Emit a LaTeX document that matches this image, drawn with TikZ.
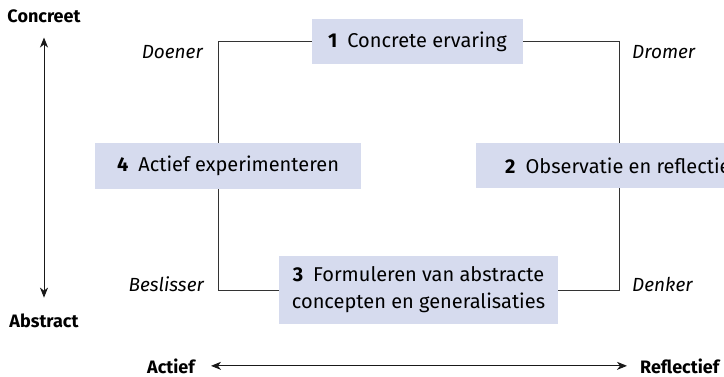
\documentclass[tikz,border=0pt]{standalone}
\usepackage{fontspec}
\setmainfont{Fira Sans}
\usetikzlibrary{arrows.meta}
\definecolor{stagefill}{RGB}{214,219,238}
\tikzset{
  stage/.style={fill=stagefill, inner sep=0pt, align=center,
    font=\fontsize{20}{27}\selectfont},
  kind/.style={inner sep=0pt, font=\itshape\fontsize{19}{22}\selectfont},
  pole/.style={inner sep=0pt, font=\bfseries\fontsize{18}{20}\selectfont},
  link/.style={draw=black!80, line width=0.8pt},
  axis/.style={draw=black!90, line width=0.9pt,
    {Stealth[length=10pt,width=8pt,inset=3pt]}-{Stealth[length=10pt,width=8pt,inset=3pt]}}
}

\begin{document}
\begin{tikzpicture}[x=1pt,y=-1pt]
      \useasboundingbox (0,0) rectangle (724,377);
      % the four stages of the cycle
      \node[stage, minimum width=211pt, minimum height=45pt] (n1) at (417.5,41.5) {\textbf{1}\enspace Concrete ervaring};
      \node[stage, anchor=north west, inner xsep=29pt, minimum height=45pt] (n2) at (476,143) {\textbf{2}\enspace Observatie en reflectie};
      \node[stage, minimum width=279pt, minimum height=68pt] (n3) at (418.5,290) {\textbf{3}\enspace Formuleren van abstracte\\concepten en generalisaties};
      \node[stage, minimum width=266pt, minimum height=46pt] (n4) at (228,166) {\textbf{4}\enspace Actief experimenteren};
      \coordinate (k1) at (218,43);
      \coordinate (k2) at (619,43);
      \foreach \s/\k/\t in {n1.west/k1/n4.north, n1.east/k2/n2.north,
                            n3.west/k1/n4.south, n3.east/k2/n2.south} {
	\draw[link] (\s) -| (\k |- \t);
      };
      % learning styles
      \node[kind, anchor=base east] (s1) at (203,59) {Doener};
      \node[kind, anchor=base west] (s2) at (632,59) {Dromer};
      \node[kind, anchor=base west] (s3) at (632,292) {Denker};
      \node[kind, anchor=base east] (s4) at (204,292) {Beslisser};
      % axes
      \node[pole, anchor=base] (p1) at (44,23) {Concreet};
      \node[pole, anchor=base] (p2) at (44,327) {Abstract};
      \node[pole, anchor=base east] (p3) at (195,373) {Actief};
      \node[pole, anchor=base west] (p4) at (640,373) {Reflectief};
      \draw[axis, shorten <=14pt, shorten >=15.5pt] (p1) -- (p2);
      \draw[axis, shorten <=16pt, shorten >=13pt] (p3) -- (p4);
    \end{tikzpicture}
\end{document}
